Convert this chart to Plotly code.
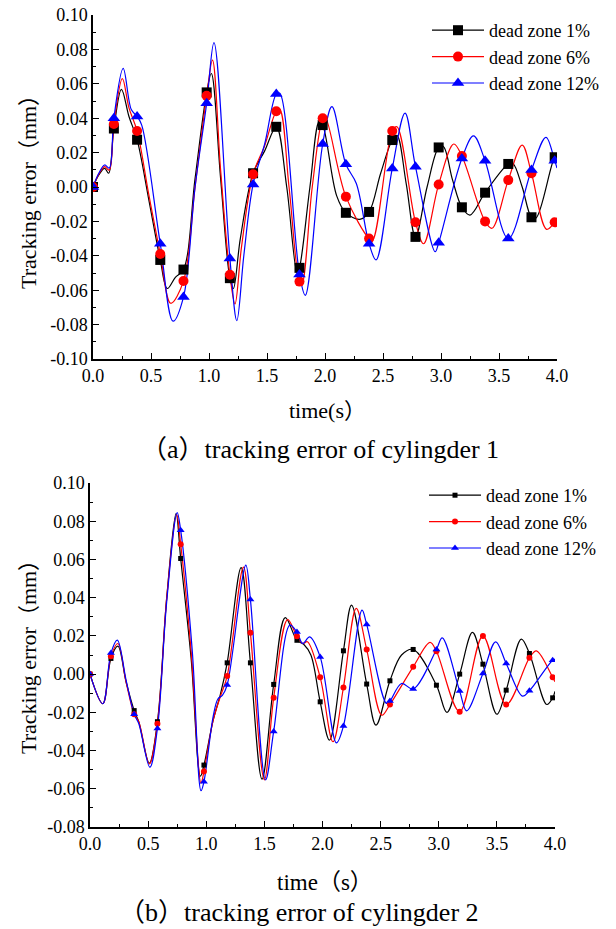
import plotly.graph_objects as go

W, H = 616, 929
FONT = "'Liberation Serif', 'Times New Roman', 'Noto Sans CJK SC', serif"

# ---------------- data ----------------
MARK_T = [0.0, 0.18, 0.38, 0.58, 0.78, 0.98, 1.18, 1.38, 1.58, 1.78, 1.98,
          2.18, 2.38, 2.58, 2.78, 2.98, 3.18, 3.38, 3.58, 3.78, 3.98]

SERIES_NAMES = ["dead zone 1%", "dead zone 6%", "dead zone 12%"]
X_TICKS = [0.0, 0.5, 1.0, 1.5, 2.0, 2.5, 3.0, 3.5, 4.0]
Y1_TICKS = [-0.10, -0.08, -0.06, -0.04, -0.02, 0.00, 0.02, 0.04, 0.06, 0.08, 0.10]
Y2_TICKS = [-0.08, -0.06, -0.04, -0.02, 0.00, 0.02, 0.04, 0.06, 0.08, 0.10]

# ---- cylinder 1 (top) ----
A_BLACK_MK = [0.0, 0.034, 0.0275, -0.0424, -0.048, 0.055, -0.053, 0.008, 0.035, -0.047, 0.036,
              -0.015, -0.0145, 0.0273, -0.029, 0.023, -0.0118, -0.0033, 0.0134, -0.0176, 0.0173]
A_BLACK_EXT_T = [0.05, 0.10, 0.135, 0.245, 0.31, 0.48, 0.64, 0.71, 0.88, 1.02, 1.10, 1.21, 1.27,
                 1.48, 1.67, 1.76, 1.87, 1.95, 2.10, 2.30, 2.48, 2.62, 2.70, 2.88, 3.02, 3.10,
                 3.25, 3.62, 3.70, 3.82, 4.0]
A_BLACK_EXT_Y = [0.007, 0.0108, 0.008, 0.0568, 0.041, -0.007, -0.059, -0.0525, 0.005, 0.066, 0.005,
                 -0.059, -0.030, 0.021, 0.0, -0.050, 0.0, 0.038, -0.005, -0.0188, 0.008, 0.030,
                 0.002, 0.0, 0.0235, 0.004, -0.0163, 0.0137, 0.0, -0.018, 0.018]

A_RED_MK = [0.0, 0.0366, 0.0326, -0.039, -0.0547, 0.053, -0.051, 0.0074, 0.044, -0.055, 0.040,
            -0.0056, -0.030, 0.0326, -0.0205, 0.0015, 0.018, -0.020, 0.004, 0.008, -0.0205]
A_RED_EXT_T = [0.05, 0.10, 0.14, 0.253, 0.31, 0.48, 0.67, 0.88, 1.03, 1.10, 1.224, 1.28, 1.48,
               1.61, 1.69, 1.80, 1.89, 2.00, 2.41, 2.62, 2.85, 3.11, 3.44, 3.70, 3.91, 4.0]
A_RED_EXT_Y = [0.0075, 0.0118, 0.0098, 0.063, 0.046, -0.004, -0.0676, 0.0, 0.0738, 0.01, -0.068,
               -0.035, 0.024, 0.045, 0.0, -0.0565, 0.0, 0.041, -0.031, 0.035, -0.033, 0.025,
               -0.024, 0.0244, -0.0246, -0.018]

A_BLUE_MK = [0.0, 0.040, 0.041, -0.033, -0.064, 0.0487, -0.0415, 0.0015, 0.054, -0.0508, 0.025,
             0.0132, -0.033, 0.0108, 0.0118, -0.0324, 0.0166, 0.0153, -0.030, 0.0099, 0.0153]
A_BLUE_EXT_T = [0.05, 0.10, 0.14, 0.26, 0.33, 0.42, 0.69, 0.88, 1.043, 1.24, 1.30, 1.48, 1.61,
                1.83, 2.06, 2.27, 2.44, 2.69, 2.95, 3.28, 3.905, 4.0]
A_BLUE_EXT_Y = [0.008, 0.0128, 0.011, 0.069, 0.045, 0.036, -0.078, 0.0, 0.0839, -0.0777, -0.040,
                0.025, 0.0545, -0.063, 0.0467, 0.002, -0.0424, 0.043, -0.0376, 0.0297, 0.0289, 0.011]

# ---- cylinder 2 (bottom) ----
B_BLACK_MK = [0.0, 0.0082, -0.0191, -0.0249, 0.0605, -0.0476, 0.0059, 0.0059, -0.0054, 0.0177,
              -0.0145, 0.0122, -0.0052, -0.0035, 0.0129, -0.0058, 0.0, 0.0052, -0.0084, 0.0108, -0.0124]
B_BLACK_EXT_T = [0.11, 0.24, 0.31, 0.42, 0.51, 0.66, 0.74, 0.87, 0.95, 1.06, 1.12, 1.30, 1.48,
                 1.68, 1.84, 1.90, 2.06, 2.25, 2.46, 2.68, 3.07, 3.29, 3.50, 3.71, 3.93, 4.0]
B_BLACK_EXT_Y = [-0.0155, 0.0146, -0.004, -0.025, -0.0466, 0.040, 0.084, 0.008, -0.0534, -0.024,
                 -0.011, 0.0557, -0.055, 0.0296, 0.0155, 0.010, -0.0345, 0.0361, -0.0267, 0.010,
                 -0.020, 0.0218, -0.021, 0.0183, -0.0159, -0.009]

B_RED_MK = [0.0, 0.0094, -0.021, -0.026, 0.068, -0.051, -0.001, 0.0216, -0.0124, 0.0198,
            -0.0017, -0.007, 0.0129, -0.0159, 0.0038, 0.012, -0.0197, 0.0199, -0.0159, 0.0085, -0.0017]
B_RED_EXT_T = [0.11, 0.24, 0.31, 0.42, 0.51, 0.66, 0.745, 0.87, 0.955, 1.06, 1.12, 1.32, 1.50,
               1.70, 1.83, 1.87, 2.09, 2.29, 2.51, 2.925, 3.84, 4.0]
B_RED_EXT_Y = [-0.0155, 0.016, -0.004, -0.025, -0.047, 0.040, 0.0835, 0.012, -0.057, -0.024,
               -0.012, 0.056, -0.0553, 0.0285, 0.016, 0.0169, -0.0354, 0.0344, -0.0215, 0.0166,
               0.0122, -0.004]

B_BLUE_MK = [0.0, 0.011, -0.021, -0.0284, 0.0753, -0.0563, -0.0057, 0.039, -0.030, 0.022,
             0.009, -0.0272, 0.026, -0.0141, -0.0078, 0.0129, -0.0089, 0.0003, 0.0056, -0.0087, 0.0073]
B_BLUE_EXT_T = [0.11, 0.235, 0.31, 0.42, 0.515, 0.66, 0.75, 0.88, 0.955, 1.06, 1.10, 1.14, 1.34,
                1.51, 1.72, 1.83, 1.89, 2.12, 2.34, 2.55, 2.68, 3.03, 3.24, 3.49, 3.72, 4.0]
B_BLUE_EXT_Y = [-0.0155, 0.0178, -0.003, -0.026, -0.0487, 0.038, 0.0845, 0.012, -0.061, -0.022,
                -0.013, -0.011, 0.057, -0.0553, 0.0256, 0.016, 0.0195, -0.036, 0.0335, -0.0153,
                -0.0049, 0.019, -0.0192, 0.0169, -0.0115, 0.0077]

COLORS = ["#000000", "#FF0000", "#0000FF"]
SYMBOLS = ["square", "circle", "triangle-up"]


def merge(mk_y, ext_t, ext_y):
    pts = sorted(list(zip(MARK_T, mk_y)) + list(zip(ext_t, ext_y)))
    return [p[0] for p in pts], [p[1] for p in pts]


fig = go.Figure()

panels = [
    ("x", "y", "legend", [(A_BLACK_MK, A_BLACK_EXT_T, A_BLACK_EXT_Y),
                          (A_RED_MK, A_RED_EXT_T, A_RED_EXT_Y),
                          (A_BLUE_MK, A_BLUE_EXT_T, A_BLUE_EXT_Y)], [10, 10, 11]),
    ("x2", "y2", "legend2", [(B_BLACK_MK, B_BLACK_EXT_T, B_BLACK_EXT_Y),
                             (B_RED_MK, B_RED_EXT_T, B_RED_EXT_Y),
                             (B_BLUE_MK, B_BLUE_EXT_T, B_BLUE_EXT_Y)], [5, 6, 7]),
]

for xa, ya, lg, series, msizes in panels:
    for i, (mk, et, ey) in enumerate(series):
        t, v = merge(mk, et, ey)
        fig.add_trace(go.Scatter(x=t, y=v, mode="lines", xaxis=xa, yaxis=ya,
                                 line=dict(color=COLORS[i], width=1.2, shape="spline", smoothing=1.0),
                                 showlegend=False, hoverinfo="skip"))
    for i, (mk, et, ey) in enumerate(series):
        fig.add_trace(go.Scatter(x=MARK_T, y=mk, mode="markers", xaxis=xa, yaxis=ya,
                                 marker=dict(color=COLORS[i], symbol=SYMBOLS[i], size=msizes[i]),
                                 showlegend=False, hoverinfo="skip"))
    for i in range(3):
        fig.add_trace(go.Scatter(x=[None], y=[None], mode="lines+markers", xaxis=xa, yaxis=ya,
                                 name=SERIES_NAMES[i], legend=lg,
                                 line=dict(color=COLORS[i], width=1.2),
                                 marker=dict(color=COLORS[i], symbol=SYMBOLS[i], size=msizes[i])))


def ax_common():
    return dict(showgrid=False, zeroline=False, showline=True, linecolor="black", linewidth=1.5,
                ticks="inside", ticklen=6, tickwidth=1.2, tickcolor="black", automargin=False,
                tickfont=dict(family=FONT, size=18, color="black"))


def px2x(p):
    return p / W


def py2y(p):
    return 1 - p / H


xminor = dict(ticks="inside", ticklen=3, tickwidth=1.2, tickcolor="black",
              tickvals=[0.25, 0.75, 1.25, 1.75, 2.25, 2.75, 3.25, 3.75])

LEG_FONT = dict(family=FONT, size=18, color="black")

fig.update_layout(
    width=W, height=H, margin=dict(l=0, r=0, t=0, b=0, autoexpand=False),
    paper_bgcolor="white", plot_bgcolor="white",
    xaxis=dict(**ax_common(), domain=[px2x(93), px2x(557)], range=[0, 4], anchor="y",
               tickvals=X_TICKS, ticktext=[f"{v:.1f}" for v in X_TICKS], minor=xminor),
    yaxis=dict(**ax_common(), domain=[py2y(359), py2y(15)], range=[-0.1, 0.1], anchor="x",
               tickvals=Y1_TICKS, ticktext=[f"{v:.2f}" for v in Y1_TICKS],
               minor=dict(ticks="inside", ticklen=3, tickwidth=1.2, tickcolor="black",
                          tickvals=[round(-0.09 + 0.02 * k, 2) for k in range(10)])),
    xaxis2=dict(**ax_common(), domain=[px2x(90), px2x(555)], range=[0, 4], anchor="y2",
                tickvals=X_TICKS, ticktext=[f"{v:.1f}" for v in X_TICKS], minor=xminor),
    yaxis2=dict(**ax_common(), domain=[py2y(827), py2y(483)], range=[-0.08, 0.10], anchor="x2",
                tickvals=Y2_TICKS, ticktext=[f"{v:.2f}" for v in Y2_TICKS],
                minor=dict(ticks="inside", ticklen=3, tickwidth=1.2, tickcolor="black",
                           tickvals=[round(-0.07 + 0.02 * k, 2) for k in range(9)])),
    legend=dict(x=px2x(427), y=py2y(12), xanchor="left", yanchor="top",
                font=LEG_FONT, bgcolor="rgba(0,0,0,0)", tracegroupgap=0, itemwidth=52),
    legend2=dict(x=px2x(424), y=py2y(477), xanchor="left", yanchor="top",
                 font=LEG_FONT, bgcolor="rgba(0,0,0,0)", tracegroupgap=0, itemwidth=52),
)

TITLE_FONT = dict(family=FONT, size=22, color="black")
CAP_FONT = dict(family=FONT, size=26, color="black")
annotations = [
    dict(text="Tracking error（mm）", x=px2x(28), y=py2y(187), textangle=-90, font=TITLE_FONT),
    dict(text="time(s）", x=px2x(327), y=py2y(410), font=TITLE_FONT),
    dict(text="（a）tracking error of cylingder 1", x=px2x(320), y=py2y(449), font=CAP_FONT),
    dict(text="Tracking error（mm）", x=px2x(28), y=py2y(652), textangle=-90, font=TITLE_FONT),
    dict(text="time（s）", x=px2x(325), y=py2y(882), font=dict(family=FONT, size=23, color="black")),
    dict(text="（b）tracking error of cylingder 2", x=px2x(299), y=py2y(912), font=CAP_FONT),
]
for a in annotations:
    fig.add_annotation(xref="paper", yref="paper", showarrow=False,
                       xanchor="center", yanchor="middle", **a)

fig.write_html("out.html")
